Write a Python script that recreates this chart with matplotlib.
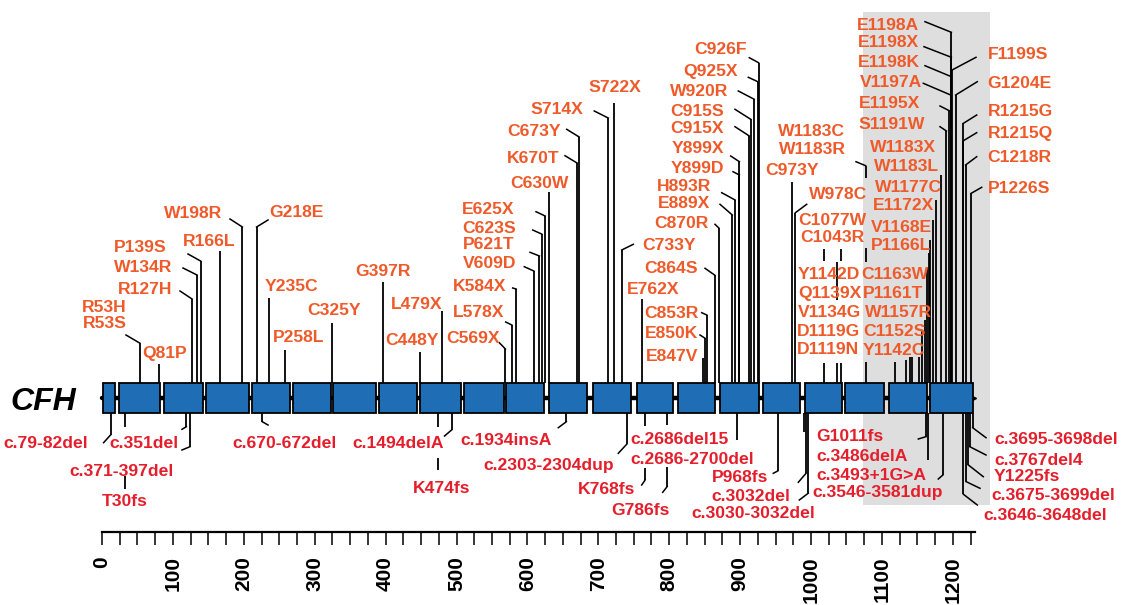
import matplotlib
matplotlib.use("Agg")
import matplotlib.pyplot as plt
from matplotlib.patches import Rectangle

plt.rcParams["font.family"] = ["Liberation Sans", "DejaVu Sans"]

# ---- data (amino-acid coordinates, CFH protein, 1231 aa) ----
protein_len = 1231
dom_start = [2, 24, 87, 147, 212, 269, 326, 390, 449, 510, 570,
             630, 692, 754, 812, 872, 932, 991, 1048, 1110, 1168]
dom_end = [19, 82, 143, 208, 265, 323, 386, 444, 507, 567, 623,
           684, 746, 806, 865, 926, 984, 1044, 1103, 1163, 1228]

top_sites = [53, 81, 127, 134, 139, 166, 198, 218, 235, 258, 325, 397, 448, 479,
             569, 578, 584, 609, 617, 620, 625, 630, 670, 673, 714, 722, 733, 762,
             847, 850, 853, 864, 870, 889, 893, 899, 899, 913, 915, 920, 925, 926,
             973, 978, 1019, 1036, 1043, 1077, 1119, 1134, 1139, 1142, 1152, 1157,
             1161, 1163, 1166, 1168, 1172, 1177, 1183, 1191, 1195, 1197, 1198, 1198,
             1198, 1199, 1204, 1215, 1215, 1218, 1226]
bottom_sites = [12, 32, 119, 124, 226, 474, 493, 655, 740, 766, 797, 896, 953,
                990, 993, 996, 1162, 1165, 1186, 1215, 1219, 1222, 1224, 1228]

top_labels = ["R53H", "R53S", "Q81P", "R127H", "W134R", "P139S", "R166L", "W198R",
              "G218E", "Y235C", "P258L", "C325Y", "G397R", "L479X", "C448Y", "C569X",
              "L578X", "K584X", "V609D", "P621T", "C623S", "E625X", "C630W", "K670T",
              "C673Y", "S714X", "S722X", "C733Y", "E762X", "C853R", "E850K", "E847V",
              "C864S", "C870R", "E889X", "H893R", "Y899D", "Y899X", "C915X", "C915S",
              "W920R", "Q925X", "C926F", "C973Y", "W978C", "W1183C", "W1183R",
              "C1077W", "C1043R", "Y1142D", "Q1139X", "V1134G", "D1119G", "D1119N",
              "C1163W", "P1161T", "W1157R", "C1152S", "Y1142C", "E1198A", "E1198X",
              "E1198K", "V1197A", "E1195X", "S1191W", "W1183X", "W1183L", "W1177C",
              "E1172X", "V1168E", "P1166L", "F1199S", "G1204E", "R1215G", "R1215Q",
              "C1218R", "P1226S"]
bottom_labels = ["c.79-82del", "c.351del", "c.371-397del", "T30fs", "c.670-672del",
                 "c.1494delA", "K474fs", "c.1934insA", "c.2303-2304dup", "K768fs",
                 "G786fs", "c.2686del15", "c.2686-2700del", "P968fs", "c.3032del",
                 "c.3030-3032del", "G1011fs", "c.3486delA", "c.3493+1G>A",
                 "c.3546-3581dup", "c.3695-3698del", "c.3767del4", "Y1225fs",
                 "c.3675-3699del", "c.3646-3648del"]

# ---- layout (pixel rows / columns of the 1123x605 canvas) ----
X0, SCALE = 102.0, 0.709           # pixel x of aa 0, pixels per aa
BOX_TOP, BOX_BOT, MID = 383.3, 412.7, 398.0
RULER_Y = 532.0
TOP_C, BOT_C = "#EE5A2A", "#E41E2B"
FS = 12.6


def px2aa(x):
    return (x - X0) / SCALE


# stem end row, elbow end (px x, px y), hidden spans
top_stem = [
    (343, (126, 335)), (364, None), (299, (180, 291)), (275, (183, 268)),
    (261, (188, 254)), (251, None), (227, (230, 219)), (227, (268, 220)),
    (298, None), (350, None), (323, None), (282, None), (352, None), (311, None),
    (349, (499.3, 342.7)), (325, (505.7, 322)), (289, (512.7, 288)),
    (271, (524.3, 266.7)), (256, (530, 252.3)), (234, (532.7, 230)),
    (216, (536, 211.7)), (192, None), (163, (565, 155.7)), (137, (566.7, 129.3)),
    (118, (594.3, 111)), (103, None), (250, (633.3, 244.3)), (299, None),
    (358, None), (338, (700, 335)), (315, (701.7, 312.7)), (275, (705, 268.3)),
    (228, (715, 224.3)), (215, (720, 204.3)), (200, (721.7, 192.7)),
    (175, (733, 171.7)), (161.7, (730.7, 156)), (136, (735, 126.7)),
    (119.3, (735, 109.3)), (99.3, (738.3, 91)), (81.7, (748.3, 77.3)),
    (62.7, (749.3, 57.7)), (181.7, None), (212.7, (806.7, 204.3)),
    (249, None, [(261, 363)]), (300, None, [(262, 363)]), (249, None, [(261, 363)]),
    (165.7, (856, 161.7), [(178, 248), (262, 362)]),
    (362, None), (360, None), (357, None), (357, None), (357, None), (330, None),
    (320, None), (267, None), (253, None), (240, None), (220, None), (200, None),
    (175, None), (131, (940, 126.7)), (110.7, (940, 106)), (95, (923.3, 83.3)),
    (76.7, (925, 65.7)), (57.3, (924, 46.7)), (32.3, (925, 21.7)),
    (70, (976, 57.3)), (95, (977.3, 81.7)), (123.3, (976.7, 115)),
    (140.7, (976.7, 132.7)), (165, (976.7, 156.7)), (193.3, (981.7, 187.3)),
]
bottom_stem = [
    (435, (103.6, 442.7)), (489, None, [(427, 476)]), (426.7, (182, 429.3)),
    (446.7, (182, 450)), (421.7, (268, 425)), (470, None, [(427, 458)]),
    (430, (444.5, 436)), (421.7, (558.3, 427.7)), (444.3, (618.3, 453.3)),
    (480, (641.7, 485), [(426, 468)]), (486.7, (662.7, 492.3), [(425, 466.7)]),
    (440, None), (471, (773.3, 473.3)), (431.7, None), (473.3, (798.3, 482.3)),
    (493.3, (799.3, 500)), (436.7, (918.3, 439)), (460, None),
    (475, (938.3, 479)), (494.3, (977.3, 505)), (481.7, (980, 488.3)),
    (465, (983.3, 476.7)), (446.7, (986, 455)), (427.7, (986, 437.7)),
]

# label anchor: px x, px row of the cap centre, alignment
top_xy = [
    (127, 306, "right"), (127, 322, "right"), (142, 352, "left"), (172, 288, "right"),
    (172, 266, "right"), (167, 246, "right"), (183, 240, "left"), (222, 212, "right"),
    (269, 211, "left"), (265, 285, "left"), (273, 336, "left"), (307, 309, "left"),
    (355, 270, "left"), (391, 303, "left"), (385, 339, "left"), (500, 337, "right"),
    (504, 311, "right"), (506, 285, "right"), (516, 262, "right"), (514, 243, "right"),
    (516, 227, "right"), (514, 208, "right"), (510, 182, "left"), (560, 157, "right"),
    (561, 130, "right"), (583, 108, "right"), (588, 86, "left"), (642, 244, "left"),
    (627, 288, "left"), (699, 312, "right"), (698, 332, "right"), (698, 355, "right"),
    (698, 267, "right"), (709, 222, "right"), (710, 202, "right"), (711, 185, "right"),
    (724, 167, "right"), (724, 147, "right"), (724, 127, "right"), (724, 110, "right"),
    (728, 90, "right"), (738, 70, "right"), (747, 48, "right"), (765, 169, "left"),
    (809, 193, "left"), (778, 130, "left"), (779, 148, "left"), (798, 219, "left"),
    (800, 236, "left"), (798, 273, "left"), (798, 292, "left"), (798, 311, "left"),
    (797, 330, "left"), (797, 348, "left"), (861, 273, "left"), (863, 292, "left"),
    (865, 311, "left"), (863, 330, "left"), (863, 349, "left"), (919, 24, "right"),
    (919, 41, "right"), (920, 61, "right"), (922, 81, "right"), (920, 102, "right"),
    (925, 123, "right"), (936, 146, "right"), (939, 165, "right"), (942, 186, "right"),
    (934, 204, "right"), (932, 226, "right"), (931, 244, "right"), (988, 53, "left"),
    (987, 82, "left"), (988, 110, "left"), (988, 132, "left"), (987, 156, "left"),
    (988, 187, "left"),
]
bottom_xy = [
    (3.6, 441.7), (109, 441.7), (69.6, 470), (102, 500), (232, 441.7), (352, 441.7),
    (412.5, 486.7), (460.7, 438.3), (483, 463.3), (578, 487.7), (611.7, 509),
    (630, 437.7), (630, 457.7), (711.7, 475.7), (711.7, 494.3), (691.7, 511.7),
    (816.7, 434.3), (816.7, 454.3), (816, 473.3), (812.7, 491), (994, 437.7),
    (994, 458.3), (994, 475), (991.7, 493.3), (983.3, 513.3),
]

fig = plt.figure(figsize=(11.23, 6.05), dpi=100)
ax = fig.add_axes([0, 0, 1, 1])
ax.set_xlim(px2aa(0), px2aa(1123))
ax.set_ylim(605, 0)
ax.axis("off")

# highlighted C-terminal region
ax.add_patch(Rectangle((px2aa(862.7), 11.7), px2aa(990) - px2aa(862.7), 493.3,
                       facecolor="#DEDEDE", edgecolor="none", zorder=0))


def draw_stem(aa, base, spec, direction):
    end, elbow = spec[0], spec[1]
    gaps = spec[2] if len(spec) > 2 else []
    lo, hi = sorted((base, end))
    cuts = [lo]
    for g0, g1 in sorted(gaps):
        cuts += [g0, g1]
    cuts.append(hi)
    for a, b in zip(cuts[::2], cuts[1::2]):
        ax.plot([aa, aa], [a, b], color="black", lw=1.3, zorder=2,
                solid_capstyle="butt")
    if elbow is not None:
        ax.plot([aa, px2aa(elbow[0])], [end, elbow[1]], color="black", lw=1.1, zorder=2)


for aa, spec in zip(top_sites, top_stem):
    draw_stem(aa, BOX_TOP, spec, -1)
for aa, spec in zip(bottom_sites, bottom_stem):
    draw_stem(aa, BOX_BOT, spec, 1)

# backbone and domains
ax.plot([0, protein_len - 4], [MID, MID], color="black", lw=3.2, zorder=3,
        solid_capstyle="round")
ax.plot([protein_len - 3], [MID], marker=">", color="black", ms=5, zorder=3)
for s, e in zip(dom_start, dom_end):
    ax.add_patch(Rectangle((s, BOX_TOP), e - s, BOX_BOT - BOX_TOP, facecolor="#1F6EB5",
                           edgecolor="black", lw=1.3, zorder=4))

ax.text(px2aa(10), MID + 11.5, "CFH", fontsize=23, fontstyle="italic",
        fontweight="bold", ha="left", va="baseline", color="black")

for txt, (x, y, ha) in zip(top_labels, top_xy):
    ax.text(px2aa(x), y + 6.3, txt, fontsize=FS, fontweight="bold", color=TOP_C,
            ha=ha, va="baseline", zorder=5)
for txt, (x, y) in zip(bottom_labels, bottom_xy):
    ax.text(px2aa(x), y + 6.3, txt, fontsize=FS, fontweight="bold", color=BOT_C,
            ha="left", va="baseline", zorder=5)

# ruler
rax = fig.add_axes([0, 1 - RULER_Y / 605, 1, 0.02])
rax.set_xlim(ax.get_xlim())
rax.patch.set_visible(False)
for side in ["top", "left", "right"]:
    rax.spines[side].set_visible(False)
rax.spines["bottom"].set_bounds(0, protein_len)
rax.spines["bottom"].set_linewidth(1.6)
rax.set_yticks([])
rax.set_xticks(range(0, 1201, 100))
rax.set_xticks(range(0, protein_len, 25), minor=True)
rax.tick_params(axis="x", which="both", direction="out", length=9.4, width=1.1)
rax.tick_params(axis="x", which="major", labelrotation=90, pad=8, labelsize=15)
for lab in rax.get_xticklabels():
    lab.set_fontweight("bold")

fig.savefig("out.png", dpi=100)
